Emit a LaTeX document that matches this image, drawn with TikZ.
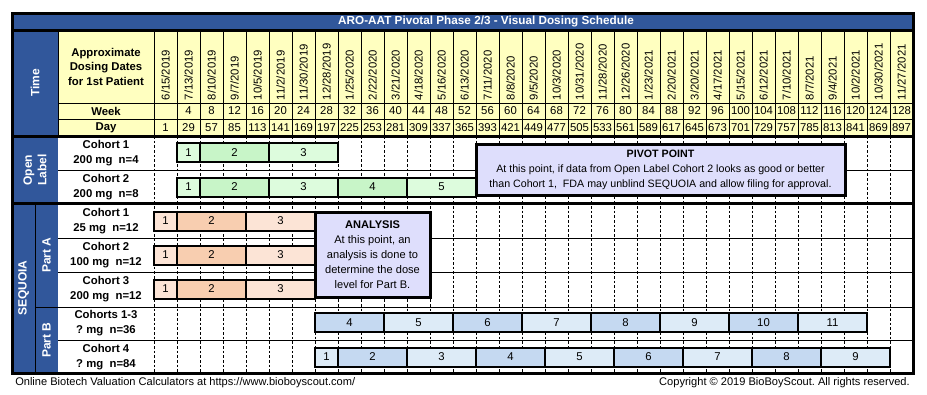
\documentclass[tikz,border=0pt]{standalone}
\usepackage{fontspec}
\setmainfont{Liberation Sans}
\frenchspacing
\definecolor{hdrblue}{RGB}{49,87,155}
\definecolor{hdryellow}{RGB}{255,255,192}
\definecolor{boxlav}{RGB}{222,222,252}
\definecolor{gLight}{RGB}{221,252,221}
\definecolor{gDark}{RGB}{200,245,200}
\definecolor{pLight}{RGB}{252,228,214}
\definecolor{pDark}{RGB}{248,206,176}
\definecolor{bLight}{RGB}{221,235,247}
\definecolor{bDark}{RGB}{197,217,241}
\newcommand\segnode[6]{%
  \node[segbox, fill=#5, minimum width={(#3-#2)*0.75pt}] (#1) at ({(#2+#3)/2},#4) {#6};}
\begin{document}
\begin{tikzpicture}[x=0.75pt,y=-0.75pt,
  txt/.style={font=\fontsize{8.5}{10}\selectfont, inner sep=0pt},
  cell/.style={txt},
  btxt/.style={font=\bfseries\fontsize{8.5}{10}\selectfont, inner sep=0pt},
  lbl/.style={font=\bfseries\fontsize{8.5}{11.25}\selectfont, align=center, inner sep=0pt},
  side/.style={font=\bfseries\fontsize{9}{11}\selectfont, text=white, rotate=90, align=center, inner sep=0pt},
  datetxt/.style={font=\fontsize{8.5}{10}\selectfont, rotate=90, anchor=west, inner sep=0pt},
  segbox/.style={draw=black, line width=1.5pt, minimum height=14.25pt, inner sep=0pt, outer sep=0pt, font=\fontsize{8.5}{10}\selectfont},
  notebox/.style={draw=black, line width=2.25pt, fill=boxlav, inner sep=0pt, outer sep=0pt},
  thin/.style={line width=0.75pt},
  thick/.style={line width=2.25pt},
  dashv/.style={line width=0.75pt, dash pattern=on 2pt off 1.5pt}]
\useasboundingbox (0,0) rectangle (927,394);
% fills
\fill[hdrblue] (12,13) rectangle (913,30);
\fill[hdrblue] (12,30) rectangle (58,373);
\fill[hdryellow] (58,30) rectangle (913,136);
% header grid
\foreach \k in {0,...,32} {\draw[thin] ({154+23*\k},30) -- ({154+23*\k},136);}
\draw[thin] (58,30) -- (58,136);
\draw[thin] (58,103) -- (913,103);
\draw[thin] (58,119) -- (913,119);
% body grid
\foreach \k in {0,...,32} {\draw[dashv] ({154+23*\k},136) -- ({154+23*\k},373);}
\draw[thin] (58,170) -- (913,170);
\draw[thin] (58,238) -- (913,238);
\draw[thin] (58,272) -- (913,272);
\draw[thin] (35,307) -- (913,307);
\draw[thin] (58,340) -- (913,340);
\draw[thin] (35,203) -- (35,373);
\draw[thick] (12,30) -- (913,30);
\draw[thick] (12,136) -- (913,136);
\draw[thick] (12,203) -- (913,203);
\draw[thick] (12,13) rectangle (913,373);
% title
\node[font=\bfseries\fontsize{8.8}{10}\selectfont, text=white, inner sep=0pt] (title) at (486,21.5) {ARO-AAT Pivotal Phase 2/3 - Visual Dosing Schedule};
% header labels
\node[lbl, font=\bfseries\fontsize{8.5}{10.9}\selectfont] (hdates) at (106,66.5) {Approximate\\Dosing Dates\\for 1st Patient};
\node[btxt] (hweek) at (106,111) {Week};
\node[btxt] (hday) at (106,127.5) {Day};
\foreach \d [count=\i from 0] in {{6/15/2019},{7/13/2019},{8/10/2019},{9/7/2019},{10/5/2019},{11/2/2019},{11/30/2019},{12/28/2019},{1/25/2020},{2/22/2020},{3/21/2020},{4/18/2020},{5/16/2020},{6/13/2020},{7/11/2020},{8/8/2020},{9/5/2020},{10/3/2020},{10/31/2020},{11/28/2020},{12/26/2020},{1/23/2021},{2/20/2021},{3/20/2021},{4/17/2021},{5/15/2021},{6/12/2021},{7/10/2021},{8/7/2021},{9/4/2021},{10/2/2021},{10/30/2021},{11/27/2021}}
  {\node[datetxt] (d\i) at ({165.5+23*\i},100.5) {\d};}
\foreach \i in {0,...,32} {
  \pgfmathtruncatemacro\dd{1+28*\i}
  \pgfmathtruncatemacro\ww{4*\i}
  \node[cell] (dy\i) at ({165.5+23*\i},127.5) {\dd};
  \ifnum\i>0 \node[cell] (w\i) at ({165.5+23*\i},111) {\ww};\fi
}
% side labels
\node[side] (sTime) at (35,83) {Time};
\node[side] (sOpen) at (35,170) {Open\\Label};
\node[side] (sSeq) at (23.5,288) {SEQUOIA};
\node[side] (sPA) at (46.5,255) {Part A};
\node[side] (sPB) at (46.5,340) {Part B};
% row labels
\node[lbl] (rO1) at (106,153) {Cohort 1\\200 mg~~n=4};
\node[lbl] (rO2) at (106,187) {Cohort 2\\200 mg~~n=8};
\node[lbl] (rA1) at (106,221) {Cohort 1\\25 mg~~n=12};
\node[lbl] (rA2) at (106,255) {Cohort 2\\100 mg~~n=12};
\node[lbl] (rA3) at (106,289.5) {Cohort 3\\200 mg~~n=12};
\node[lbl] (rB1) at (106,323.5) {Cohorts 1-3\\? mg~~n=36};
\node[lbl] (rB2) at (106,357) {Cohort 4\\? mg~~n=84};
% Open label bars
\segnode{o1a}{177}{200}{152.5}{gLight}{1}
\segnode{o1b}{200}{269}{152.5}{gDark}{2}
\segnode{o1c}{269}{338}{152.5}{gLight}{3}
\segnode{o2a}{177}{200}{187}{gLight}{1}
\segnode{o2b}{200}{269}{187}{gDark}{2}
\segnode{o2c}{269}{338}{187}{gLight}{3}
\segnode{o2d}{338}{407}{187}{gDark}{4}
\segnode{o2e}{407}{476}{187}{gLight}{5}
% Part A bars
\foreach \r/\yc in {1/221,2/255,3/289} {
  \segnode{a\r a}{154}{177}{\yc}{pLight}{1}
  \segnode{a\r b}{177}{246}{\yc}{pDark}{2}
  \segnode{a\r c}{246}{315}{\yc}{pLight}{3}
}
% Part B cohorts 1-3
\foreach \n [count=\j from 0] in {4,...,11} {
  \pgfmathtruncatemacro\xa{315+69*\j}
  \pgfmathtruncatemacro\xb{384+69*\j}
  \ifodd\j \def\cc{bLight}\else\def\cc{bDark}\fi
  \segnode{b1s\n}{\xa}{\xb}{322.5}{\cc}{\n}
}
% Part B cohort 4
\segnode{b2s1}{315}{338}{357}{bLight}{1}
\foreach \n [count=\j from 0] in {2,...,9} {
  \pgfmathtruncatemacro\xa{338+69*\j}
  \pgfmathtruncatemacro\xb{407+69*\j}
  \ifodd\j \def\cc{bLight}\else\def\cc{bDark}\fi
  \segnode{b2s\n}{\xa}{\xb}{357}{\cc}{\n}
}
% note boxes
\node[notebox, minimum width={(845-476)*0.75pt}, minimum height={(195-144)*0.75pt}] (pivot) at (660.5,169.5) {};
\node[lbl, font=\fontsize{8}{11.25}\selectfont] (pivottxt) at (pivot.center) {\textbf{PIVOT POINT}\\At this point, if data from Open Label Cohort 2 looks as good or better\\than Cohort 1,~~FDA may unblind SEQUOIA and allow filing for approval.};
\node[notebox, minimum width={(430-315)*0.75pt}, minimum height={(297-212)*0.75pt}] (analysis) at (372.5,254.5) {};
\node[lbl, font=\fontsize{8.3}{11.25}\selectfont] (analysistxt) at (analysis.center) {\textbf{ANALYSIS}\\At this point, an\\analysis is done to\\determine the dose\\level for Part B.};
% footer
\node[txt, font=\fontsize{8.3}{10}\selectfont, anchor=west] (foot1) at (15,383) {Online Biotech Valuation Calculators at https://www.bioboyscout.com/};
\node[txt, font=\fontsize{8.3}{10}\selectfont, anchor=east] (foot2) at (910,383) {Copyright © 2019 BioBoyScout. All rights reserved.};
\end{tikzpicture}
\end{document}
